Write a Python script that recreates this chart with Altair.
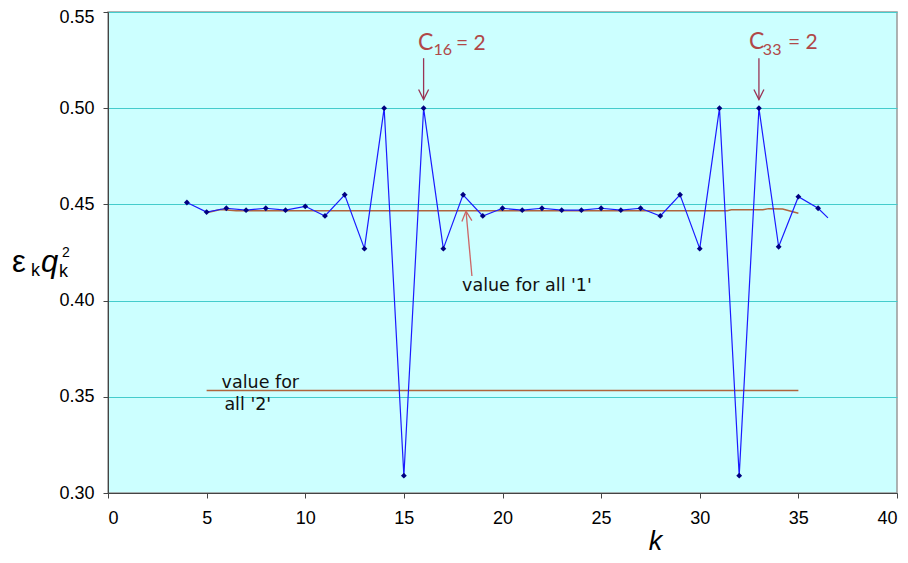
import altair as alt
import pandas as pd

# ---- data ----
k_vals = list(range(4, 37))
eq_vals = [0.451, 0.446, 0.448, 0.447, 0.448, 0.447, 0.449, 0.444, 0.455, 0.427,
           0.500, 0.309, 0.500, 0.427, 0.455, 0.444, 0.448, 0.447, 0.448, 0.447,
           0.447, 0.448, 0.447, 0.448, 0.444, 0.455, 0.427, 0.500, 0.309, 0.500,
           0.428, 0.454, 0.448]
tail_k = [36.5]
tail_val = [0.443]

all1_k = [5, 5.7, 6.5, 31.4, 31.6, 33.2, 33.5, 34.2, 35]
all1_val = [0.4457, 0.4473, 0.4467, 0.4467, 0.4472, 0.4472, 0.4478, 0.4476, 0.4454]

all2_k = [5, 35]
all2_val = [0.3533, 0.3533]

x_ticks = [0, 5, 10, 15, 20, 25, 30, 35, 40]
y_ticks = [0.30, 0.35, 0.40, 0.45, 0.50, 0.55]

# ---- tables ----
series = pd.DataFrame({"k": k_vals + tail_k, "v": eq_vals + tail_val})
points = pd.DataFrame({"k": k_vals, "v": eq_vals})
all1 = pd.DataFrame({"k": all1_k, "v": all1_val})
all2 = pd.DataFrame({"k": all2_k, "v": all2_val})

xs = alt.Scale(domain=[0, 40], nice=False, zero=False)
ys = alt.Scale(domain=[0.30, 0.55], nice=False, zero=False)

X = alt.X("k:Q", scale=xs,
          axis=alt.Axis(values=x_ticks, title="k", titleFontStyle="italic",
                        titleFontSize=27, titleFontWeight="normal",
                        titleFont="Liberation Sans", titleX=547, titleY=56,
                        titleBaseline="alphabetic", titleColor="#000",
                        labelFont="Liberation Sans", labelFontSize=18,
                        labelColor="#000", labelPadding=11, grid=False,
                        tickSize=5, tickColor="#444", domainColor="#444"))
Y = alt.Y("v:Q", scale=ys,
          axis=alt.Axis(values=y_ticks, format=".2f", title=None,
                        labelFont="Liberation Sans", labelFontSize=18,
                        labelColor="#000", labelPadding=9, grid=True,
                        labelOffset={"condition": {"test": "datum.value >= 0.54", "value": 5},
                                     "value": 0},
                        gridColor="#44cccc", gridWidth=1,
                        tickSize=5, tickColor="#444", domainColor="#444"))

brown = "#b0643c"

l_all2 = alt.Chart(all2).mark_line(color=brown, strokeWidth=1.5).encode(x=X, y=Y)
l_all1 = alt.Chart(all1).mark_line(color=brown, strokeWidth=1.5).encode(x="k:Q", y="v:Q")
l_series = alt.Chart(series).mark_line(color="#1a1aff", strokeWidth=1.2).encode(x="k:Q", y="v:Q")
p_series = alt.Chart(points).mark_point(shape="diamond", filled=True, color="#000080",
                                        size=34, opacity=1).encode(x="k:Q", y="v:Q")

# arrows
arrows = pd.DataFrame({
    "k": [16, 33, 18.45], "k2": [16, 33, 18.15],
    "v": [0.526, 0.526, 0.4128], "v2": [0.5045, 0.5045, 0.4465],
    "c": ["#993355", "#993355", "#cc6666"],
})
a_rules = alt.Chart(arrows).mark_rule(strokeWidth=1.3).encode(
    x="k:Q", x2="k2:Q", y="v:Q", y2="v2:Q", color=alt.Color("c:N", scale=None))
heads_down = alt.Chart(arrows.iloc[:2]).mark_point(
    shape="M-0.5,-1L0,0L0.5,-1", filled=False, size=400, strokeWidth=1.3, opacity=1
).encode(x="k2:Q", y="v2:Q", color=alt.Color("c:N", scale=None))
heads_up = alt.Chart(arrows.iloc[2:]).mark_point(
    shape="M-0.5,1L0,0L0.5,1", filled=False, size=400, strokeWidth=1.3, opacity=1, angle=355
).encode(x="k2:Q", y="v2:Q", color=alt.Color("c:N", scale=None))

# annotation texts
ann_red = pd.DataFrame({
    "k": [15.72, 16.50, 17.64, 32.5, 33.2, 34.47],
    "v": [0.5302, 0.5277, 0.5302, 0.5308, 0.5277, 0.5308],
    "t": ["C", "16", "= 2", "C", "33", "= 2"],
    "s": [23, 16, 21, 23, 16, 21],
})
t_red = alt.Chart(ann_red).mark_text(align="left", baseline="alphabetic",
                                     font="Lato", color="#b04848").encode(
    x="k:Q", y="v:Q", text="t:N", size=alt.Size("s:Q", scale=None))

ann_black = pd.DataFrame({
    "k": [17.95, 5.76, 5.9],
    "v": [0.4050, 0.3546, 0.3431],
    "t": ["value for all '1'", "value for", "all '2'"],
})
t_black = alt.Chart(ann_black).mark_text(align="left", baseline="alphabetic",
                                         font="DejaVu Sans", fontSize=17.5, color="#111").encode(
    x="k:Q", y="v:Q", text="t:N")

# y-axis title composed of pieces (pixel positions relative to the plot area)
ytitle = pd.DataFrame({
    "px": [-96, -77, -67, -49, -46],
    "py": [260, 264, 260, 265, 245],
    "t": ["ε", "k", "q", "k", "2"],
    "s": [31, 18, 31, 18, 14],
    "st": ["normal", "normal", "italic", "normal", "normal"],
})
yt_parts = []
for st in ["normal", "italic"]:
    d = ytitle[ytitle.st == st]
    yt_parts.append(alt.Chart(d).mark_text(align="left", baseline="alphabetic",
                                           font="Liberation Sans", fontStyle=st,
                                           color="#000").encode(
        x=alt.X("px:Q", scale=None), y=alt.Y("py:Q", scale=None),
        text="t:N", size=alt.Size("s:Q", scale=None)))

chart = alt.layer(l_all2, l_all1, l_series, p_series, a_rules, heads_down, heads_up,
                  t_red, t_black, *yt_parts).properties(
    width=789, height=481,
    autosize=alt.AutoSizeParams(type="none"),
    padding={"left": 100, "top": 4, "right": 3, "bottom": 62},
    background="white",
).configure_view(fill="#ccffff", stroke="#999999", strokeWidth=1.5)

chart.save("out.html", embed_options={"renderer": "svg", "actions": False})
